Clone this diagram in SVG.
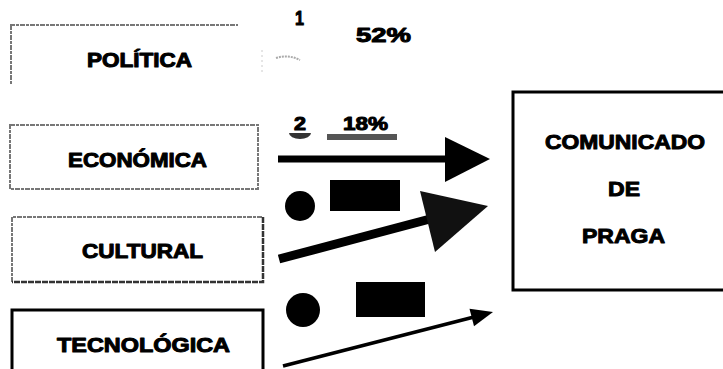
<svg xmlns="http://www.w3.org/2000/svg" width="723" height="369" viewBox="0 0 723 369">
  <style>
    .lbl { font-family: "Liberation Sans", Arial, sans-serif; font-weight: bold; fill: #000; stroke: #000; stroke-width: 1; stroke-linejoin: round; }
    .box-soft { fill: none; stroke: #777; stroke-width: 2; stroke-dasharray: 5 1 3 1; }
    .box-hard { fill: none; stroke: #000; stroke-width: 3; }
    .shaft { stroke: #000; fill: none; }
  </style>
  <rect width="723" height="369" fill="#fff"/>

  <!-- source nodes -->
  <g id="politica">
    <path d="M10 25 H238 M11 25 V84" class="box-soft" stroke="#999"/>
    <path d="M262 50 V75" stroke="#ccc" stroke-width="1" stroke-dasharray="2 3"/>
    <text class="lbl" x="87" y="67" font-size="19.5" textLength="105" lengthAdjust="spacingAndGlyphs">POLÍTICA</text>
  </g>

  <g id="economica">
    <rect x="10" y="125" width="248" height="64" class="box-soft"/>
    <text class="lbl" x="68" y="167" font-size="20" textLength="139" lengthAdjust="spacingAndGlyphs">ECONÓMICA</text>
  </g>

  <g id="cultural">
    <path d="M12 282 V217 H263" class="box-soft"/>
    <path d="M263 217 V282 H12" fill="none" stroke="#333" stroke-width="2.5" stroke-dasharray="6 1"/>
    <text class="lbl" x="82" y="258" font-size="20" textLength="121" lengthAdjust="spacingAndGlyphs">CULTURAL</text>
  </g>

  <g id="tecnologica">
    <path d="M12 371 V310 H263 V371" class="box-hard"/>
    <text class="lbl" x="57" y="352" font-size="20" textLength="173" lengthAdjust="spacingAndGlyphs">TECNOLÓGICA</text>
  </g>

  <!-- target node -->
  <g id="comunicado">
    <path d="M725 92 H513 V290 H725" class="box-hard"/>
    <text class="lbl" x="545" y="149" font-size="21" textLength="160" lengthAdjust="spacingAndGlyphs">COMUNICADO</text>
    <text class="lbl" x="608" y="196" font-size="21" textLength="32" lengthAdjust="spacingAndGlyphs">DE</text>
    <text class="lbl" x="582" y="243" font-size="21" textLength="83" lengthAdjust="spacingAndGlyphs">PRAGA</text>
  </g>

  <!-- ranking labels -->
  <g id="rank-1">
    <text class="lbl" x="295" y="25" font-size="21" textLength="9" lengthAdjust="spacingAndGlyphs">1</text>
    <text class="lbl" x="356" y="42" font-size="21" textLength="55" lengthAdjust="spacingAndGlyphs">52%</text>
    <path d="M276 58 Q288 54 300 60" stroke="#aaa" stroke-width="2" fill="none" stroke-dasharray="2 1"/>
  </g>

  <g id="rank-2">
    <text class="lbl" x="294" y="130" font-size="18" textLength="12" lengthAdjust="spacingAndGlyphs">2</text>
    <path d="M289 133 H311 A11 6 0 0 1 289 133 Z" fill="#333"/>
    <text class="lbl" x="343" y="130" font-size="18" textLength="45" lengthAdjust="spacingAndGlyphs">18%</text>
    <rect x="327" y="134" width="70" height="6" fill="#555"/>
  </g>

  <!-- markers between arrows -->
  <g id="markers">
    <circle cx="300" cy="206" r="15" fill="#000"/>
    <rect x="330" y="180" width="70" height="31" fill="#000"/>
    <circle cx="303" cy="310" r="17" fill="#000"/>
    <rect x="356" y="282" width="69" height="35" fill="#000"/>
  </g>

  <!-- connectors -->
  <g id="connectors">
    <line class="shaft" x1="278" y1="159" x2="448" y2="159" stroke-width="7"/>
    <polygon points="445,137 490,159 445,182" fill="#000"/>

    <line class="shaft" x1="279" y1="259" x2="430" y2="219" stroke-width="9"/>
    <polygon points="420,191 488,206 435,252" fill="#111"/>

    <line class="shaft" x1="283" y1="366" x2="474" y2="317" stroke-width="3.5"/>
    <polygon points="469.5,308.8 493,312 474,326.2" fill="#000"/>
  </g>
</svg>
